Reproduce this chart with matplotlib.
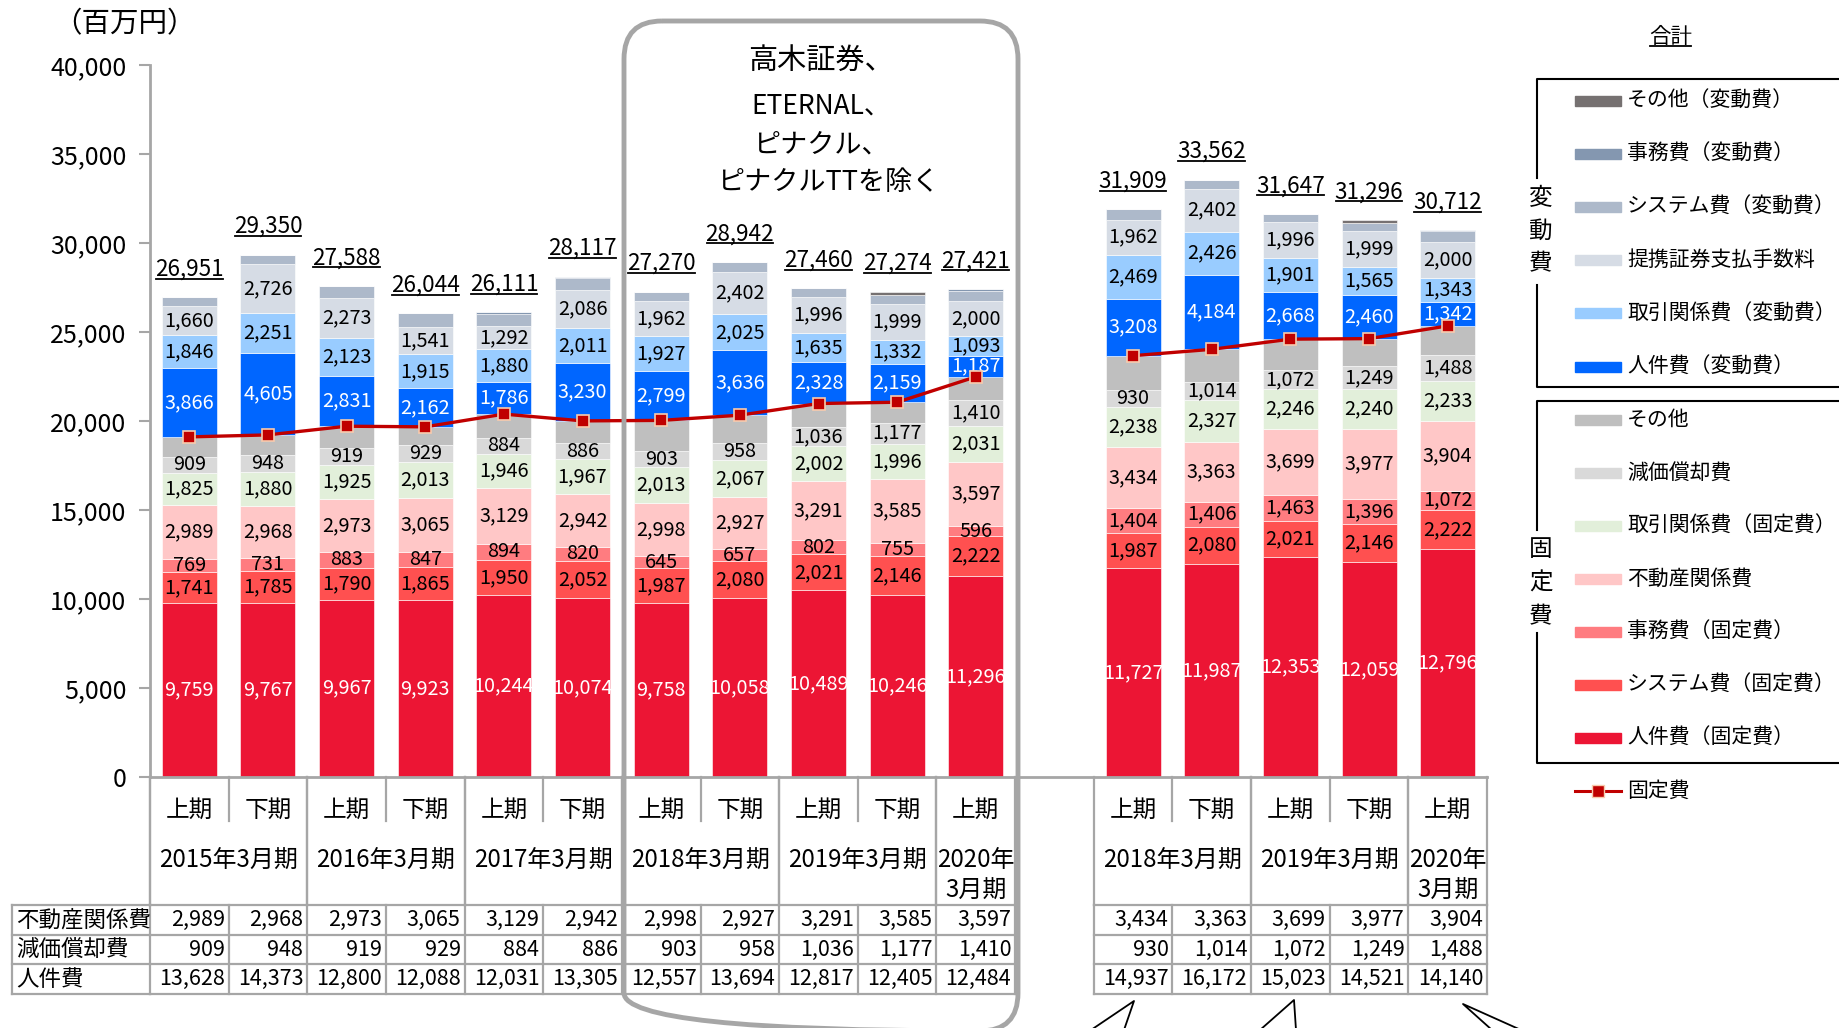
import matplotlib
matplotlib.use('Agg')
import matplotlib.pyplot as plt
import matplotlib.transforms as mtransforms
from matplotlib.patches import FancyBboxPatch, Rectangle
from matplotlib.lines import Line2D

plt.rcParams['font.family'] = ['Noto Sans CJK JP', 'DejaVu Sans']

# ---------------- data ----------------
x_pos = [0, 1, 2, 3, 4, 5, 6, 7, 8, 9, 10, 12, 13, 14, 15, 16]
periods = ['上期', '下期', '上期', '下期', '上期', '下期', '上期', '下期', '上期', '下期', '上期',
           '上期', '下期', '上期', '下期', '上期']
year_groups = [('2015年3月期', 0, 1), ('2016年3月期', 2, 3), ('2017年3月期', 4, 5),
               ('2018年3月期', 6, 7), ('2019年3月期', 8, 9), ('2020年\n3月期', 10, 10),
               ('2018年3月期', 12, 13), ('2019年3月期', 14, 15), ('2020年\n3月期', 16, 16)]

jinken_fixed = [9759, 9767, 9967, 9923, 10244, 10074, 9758, 10058, 10489, 10246, 11296,
                11727, 11987, 12353, 12059, 12796]
system_fixed = [1741, 1785, 1790, 1865, 1950, 2052, 1987, 2080, 2021, 2146, 2222,
                1987, 2080, 2021, 2146, 2222]
jimu_fixed = [769, 731, 883, 847, 894, 820, 645, 657, 802, 755, 596,
              1404, 1406, 1463, 1396, 1072]
fudosan = [2989, 2968, 2973, 3065, 3129, 2942, 2998, 2927, 3291, 3585, 3597,
           3434, 3363, 3699, 3977, 3904]
torihiki_fixed = [1825, 1880, 1925, 2013, 1946, 1967, 2013, 2067, 2002, 1996, 2031,
                  2238, 2327, 2246, 2240, 2233]
genka = [909, 948, 919, 929, 884, 886, 903, 958, 1036, 1177, 1410,
         930, 1014, 1072, 1249, 1488]
sonota_fixed = [1115, 1140, 1250, 1030, 1340, 1265, 1730, 1580, 1340, 1150, 1330,
                1950, 1850, 1745, 1560, 1630]
jinken_var = [3866, 4605, 2831, 2162, 1786, 3230, 2799, 3636, 2328, 2159, 1187,
              3208, 4184, 2668, 2460, 1342]
torihiki_var = [1846, 2251, 2123, 1915, 1880, 2011, 1927, 2025, 1635, 1332, 1093,
                2469, 2426, 1901, 1565, 1343]
teikei = [1660, 2726, 2273, 1541, 1292, 2086, 1962, 2402, 1996, 1999, 2000,
          1962, 2402, 1996, 1999, 2000]
system_var = [472, 549, 654, 754, 666, 704, 548, 552, 520, 559, 539,
              600, 523, 483, 465, 622]
jimu_var = [0, 0, 0, 0, 100, 80, 0, 0, 0, 0, 120, 0, 0, 0, 0, 60]
sonota_var = [0, 0, 0, 0, 0, 0, 0, 0, 0, 170, 0, 0, 0, 0, 180, 0]

totals = [26951, 29350, 27588, 26044, 26111, 28117, 27270, 28942, 27460, 27274, 27421,
          31909, 33562, 31647, 31296, 30712]
fixed_cost = [19107, 19219, 19707, 19672, 20387, 20006, 20034, 20327, 20981, 21055, 22482,
              23670, 24027, 24599, 24627, 25345]

tbl_fudosan = [2989, 2968, 2973, 3065, 3129, 2942, 2998, 2927, 3291, 3585, 3597,
               3434, 3363, 3699, 3977, 3904]
tbl_genka = [909, 948, 919, 929, 884, 886, 903, 958, 1036, 1177, 1410,
             930, 1014, 1072, 1249, 1488]
tbl_jinken = [13628, 14373, 12800, 12088, 12031, 13305, 12557, 13694, 12817, 12405, 12484,
              14937, 16172, 15023, 14521, 14140]
tbl_rows = ['不動産関係費', '減価償却費', '人件費']

# series: (name, values, color, label color or None)
series = [
    ('人件費（固定費）', jinken_fixed, '#EC1534', 'white'),
    ('システム費（固定費）', system_fixed, '#FF5050', 'black'),
    ('事務費（固定費）', jimu_fixed, '#FF7C80', 'black'),
    ('不動産関係費', fudosan, '#FFC7C7', 'black'),
    ('取引関係費（固定費）', torihiki_fixed, '#E2EFDA', 'black'),
    ('減価償却費', genka, '#D9D9D9', 'black'),
    ('その他', sonota_fixed, '#BFBFBF', None),
    ('人件費（変動費）', jinken_var, '#0066FF', 'white'),
    ('取引関係費（変動費）', torihiki_var, '#99CCFF', 'black'),
    ('提携証券支払手数料', teikei, '#D6DCE5', 'black'),
    ('システム費（変動費）', system_var, '#ADB9CA', None),
    ('事務費（変動費）', jimu_var, '#8497B0', None),
    ('その他（変動費）', sonota_var, '#767171', None),
]

# ---------------- figure ----------------
W, H = 1839, 1028
fig = plt.figure(figsize=(W / 100, H / 100), dpi=100)
AX_L, AX_R, AX_T, AX_B = 150, 1487, 65, 777
ax = fig.add_axes([AX_L / W, 1 - AX_B / H, (AX_R - AX_L) / W, (AX_B - AX_T) / H])
ax.set_xlim(-0.5, 16.5)
ax.set_ylim(0, 40000)

ov = fig.add_axes([0, 0, 1, 1], zorder=5)
ov.set_xlim(0, W)
ov.set_ylim(H, 0)
ov.axis('off')
ov.patch.set_visible(False)
bt = mtransforms.blended_transform_factory(ax.transData, ov.transData)

GRID = '#A6A6A6'

# bars
bottom = [0] * len(x_pos)
for name, vals, col, lcol in series:
    ax.bar(x_pos, vals, bottom=bottom, width=0.7, color=col, edgecolor='white',
           linewidth=0.4, zorder=2)
    if lcol is not None:
        for xi, b, v in zip(x_pos, bottom, vals):
            ax.text(xi, b + v / 2, f'{v:,}', ha='center', va='center',
                    fontsize=14.3, color=lcol, zorder=4)
    bottom = [b + v for b, v in zip(bottom, vals)]

# fixed cost line
for sl in (slice(0, 11), slice(11, 16)):
    ax.plot(x_pos[sl], fixed_cost[sl], color='#C00000', lw=2.4, marker='s',
            markersize=9, markerfacecolor='#C00000', markeredgecolor='#F8CBAD',
            markeredgewidth=1.2, zorder=5)

# totals
tot_texts = []
for xi, t in zip(x_pos, totals):
    tt = ax.annotate(f'{t:,}', (xi, t), xytext=(0, 28), textcoords='offset pixels',
                     ha='center', va='center', fontsize=16.2, zorder=6)
    tot_texts.append(tt)

# axes styling
ax.set_yticks(range(0, 40001, 5000))
ax.set_yticklabels([f'{v:,}' for v in range(0, 40001, 5000)])
ax.tick_params(axis='y', length=8, width=1.5, color=GRID, labelsize=18, pad=9)
ax.set_xticks([])
for s in ('top', 'right'):
    ax.spines[s].set_visible(False)
ax.spines['left'].set_color(GRID)
ax.spines['left'].set_linewidth(2)
ax.spines['bottom'].set_color(GRID)
ax.spines['bottom'].set_linewidth(2)
ax.patch.set_visible(False)

ov.text(124, 24, '（百万円）', ha='center', va='center', fontsize=20.5)

# ---------------- category table ----------------
def vline(x, y0, y1, **kw):
    ov.add_line(Line2D([x, x], [y0, y1], transform=bt, color=GRID, lw=1.6, **kw))

def hline(x0, x1, y, **kw):
    ov.add_line(Line2D([x0, x1], [y, y], transform=bt, color=GRID, lw=1.6, **kw))

for xi, p in zip(x_pos, periods):
    ov.text(xi, 810, p, transform=bt, ha='center', va='center', fontsize=17)

for label, a, b in year_groups:
    xc = (a + b) / 2
    parts = label.split('\n')
    if len(parts) == 1:
        ov.text(xc, 860, parts[0], transform=bt, ha='center', va='center', fontsize=17.3)
    else:
        ov.text(xc, 860, parts[0], transform=bt, ha='center', va='center', fontsize=17.3)
        ov.text(xc, 891, parts[1], transform=bt, ha='center', va='center', fontsize=17.3)
    vline(a - 0.5, 777, 905)
    vline(b + 0.5, 777, 905)
    if b > a:
        vline(a + 0.5, 777, 821)

# data table
ROW_Y = [905, 935, 964, 994]
tbl_vals = [tbl_fudosan, tbl_genka, tbl_jinken]
for r, (rname, vals) in enumerate(zip(tbl_rows, tbl_vals)):
    yc = (ROW_Y[r] + ROW_Y[r + 1]) / 2
    ov.text(16, yc, rname, ha='left', va='center', fontsize=16.2)
    for xi, v in zip(x_pos, vals):
        ov.text(xi + 0.45, yc, f'{v:,}', transform=bt, ha='right', va='center',
                fontsize=15.5)
for y in ROW_Y:
    ov.add_line(Line2D([12, AX_L], [y, y], color=GRID, lw=1.6))
    hline(-0.5, 10.5, y)
    hline(11.5, 16.5, y)
ov.add_line(Line2D([12, 12], [905, 994], color=GRID, lw=1.6))
for b in [i - 0.5 for i in range(0, 12)] + [i - 0.5 for i in range(12, 18)]:
    vline(b, 905, 994)
vline(-0.5, 777, 905)

# ---------------- rounded box ----------------
box = FancyBboxPatch((624, 21), 394, 1010,
                     boxstyle='round,pad=0,rounding_size=38',
                     fill=False, edgecolor='#A6A6A6', lw=3.5, zorder=7)
ov.add_patch(box)
ov.text(821, 61, '高木証券、', ha='center', va='center', fontsize=21)
ov.text(821, 106, 'ETERNAL、', ha='center', va='center', fontsize=19)
ov.text(821, 145, 'ピナクル、', ha='center', va='center', fontsize=19.5)
ov.text(828, 182, 'ピナクルTTを除く', ha='center', va='center', fontsize=19.5)

# callout tails
for tip, e1, e2 in [((1134, 1001), (1091, 1030), (1124, 1030)),
                    ((1294, 1000), (1260, 1030), (1296, 1030)),
                    ((1463, 1004), (1492, 1030), (1521, 1030))]:
    ov.add_line(Line2D([e1[0], tip[0], e2[0]], [e1[1], tip[1], e2[1]], color='black', lw=1.3))

# ---------------- legend ----------------
legend_items = ['その他（変動費）', '事務費（変動費）', 'システム費（変動費）', '提携証券支払手数料',
                '取引関係費（変動費）', '人件費（変動費）', 'その他', '減価償却費',
                '取引関係費（固定費）', '不動産関係費', '事務費（固定費）', 'システム費（固定費）',
                '人件費（固定費）']
color_of = {s[0]: s[2] for s in series}
for k, name in enumerate(legend_items):
    y = 101 + 53.1 * k
    ov.add_patch(Rectangle((1575, y - 5), 46, 10, color=color_of[name]))
    ov.text(1627, y, name, ha='left', va='center', fontsize=15.0)
y = 101 + 53.1 * 13
ov.add_line(Line2D([1575, 1598, 1621], [y, y, y], color='#C00000', lw=2.2, marker='s',
                   markersize=8, markevery=[1], markerfacecolor='#C00000',
                   markeredgecolor='#F8CBAD'))
ov.text(1627, y, '固定費', ha='left', va='center', fontsize=15.0)

# brackets
for top, bot, g0, g1, chars, cys in [(79, 387, 178, 285, '変動費', (199, 231, 264)),
                                     (401, 763, 530, 633, '固定費', (549, 583, 617))]:
    ov.add_line(Line2D([W, 1537, 1537], [top, top, g0], color='black', lw=1.5))
    ov.add_line(Line2D([1537, 1537, W], [g1, bot, bot], color='black', lw=1.5))
    for ch, cy in zip(chars, cys):
        ov.text(1541, cy, ch, ha='center', va='center', fontsize=17)

gt = ov.text(1671, 37, '合計', ha='center', va='center', fontsize=15.5)

# ---------------- underlines ----------------
fig.canvas.draw()
r = fig.canvas.get_renderer()
for t in tot_texts + [gt]:
    bb = t.get_window_extent(r)
    yy = H - (bb.y0 + 2)
    ov.add_line(Line2D([bb.x0 + 1, bb.x1 - 1], [yy, yy], color='black', lw=1.3))

fig.savefig('out.png', dpi=100)
